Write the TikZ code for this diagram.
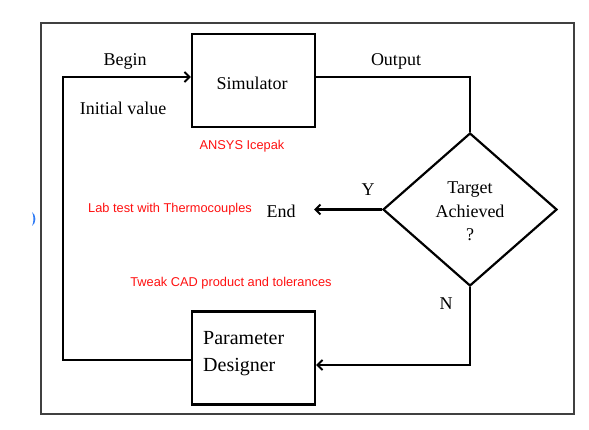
\documentclass[tikz,border=0pt]{standalone}
\usepackage{fontspec}
\setmainfont{Liberation Serif}
\newfontfamily\redfont{Liberation Sans}
\usetikzlibrary{shapes.geometric,arrows.meta}
\definecolor{framegray}{HTML}{404040}
\definecolor{redtxt}{HTML}{FF1010}
\definecolor{bluemark}{HTML}{2F7BF5}
\tikzset{
  blk/.style={draw=black, line width=2.2pt, minimum width=123pt, minimum height=93pt, inner sep=0pt},
  lbl/.style={font=\fontsize{18}{20}\selectfont, inner sep=0pt},
  redlbl/.style={font=\redfont\fontsize{12.8}{14}\selectfont, text=redtxt, inner sep=0pt},
  conn/.style={line width=2.2pt, line join=miter},
  arr/.style={conn, -{Straight Barb[length=5pt,width=10pt,line width=2pt]}},
}
\begin{document}
\begin{tikzpicture}[x=1pt,y=-1pt]
\useasboundingbox (0,0) rectangle (589,430);
% frame
\draw[framegray, line width=1.2pt] (41,23) rectangle (574,414);
% blue mark
\fill[bluemark] (32,212) .. controls (36.5,215) and (36.5,223) .. (32,226) .. controls (34,222) and (34,216) .. (32,212);
% blocks
\node[blk] (sim) at (253.5,80.5) {};
\node[lbl] (simt) at (252,83) {Simulator};
\node[blk] (par) at (253.5,358) {};
\node[lbl, font=\fontsize{20}{27}\selectfont, align=left, anchor=west] (part) at (203,353.5) {Parameter\\Designer};
\node[draw=black, line width=2.2pt, diamond, minimum width=174pt, minimum height=153pt, inner sep=0pt] (dia) at (470,209.5) {};
\node[lbl, align=center, font=\fontsize{18}{23.5}\selectfont] (diat) at (470,211.5) {Target\\Achieved\\?};
% labels
\node[lbl] (begin) at (125,61) {Begin};
\node[lbl] (init) at (123,108) {Initial value};
\node[lbl] (out) at (396,61) {Output};
\node[lbl] (endt) at (281,211) {End};
\node[lbl] (ylab) at (368,190) {Y};
\node[lbl] (nlab) at (446,304) {N};
% red annotations
\node[redlbl] (ansys) at (242,146) {ANSYS Icepak};
\node[redlbl] (lab) at (170,209) {Lab test with Thermocouples};
\node[redlbl] (tweak) at (231,283) {Tweak CAD product and tolerances};
% connectors
\coordinate (lc) at (63,360);
\coordinate (tc) at (63,77);
\coordinate (oc) at (470,77);
\coordinate (nc) at (470,365);
\coordinate (ytip) at (314,209.5);
\draw[arr] (par.west |- lc) -- (lc) -- (tc) -- (sim.west |- tc);
\draw[conn] (sim.east |- oc) -- (oc) -- (dia.north);
\draw[arr] (dia.west) -- (ytip);
\draw[arr] (dia.south) -- (nc) -- (par.east |- nc);
\end{tikzpicture}
\end{document}
